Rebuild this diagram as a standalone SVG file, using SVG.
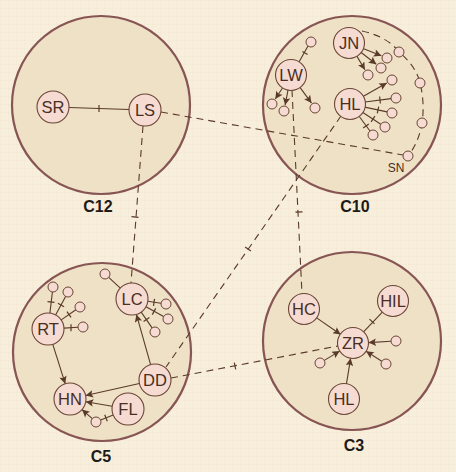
<svg xmlns="http://www.w3.org/2000/svg" width="456" height="472" viewBox="0 0 456 472">
<defs>
<pattern id="grid" width="8" height="8" patternUnits="userSpaceOnUse">
<path d="M8 0 L0 0 0 8" fill="none" stroke="#e9dcc0" stroke-width="0.6" opacity="0.7"/>
</pattern>
<marker id="arr" viewBox="0 0 10 10" refX="10" refY="5" markerWidth="9" markerHeight="7.5" markerUnits="userSpaceOnUse" orient="auto">
<path d="M0 0 L10 5 L0 10 L2 5 Z" fill="#5a3a2a"/>
</marker>
<style>
.cl{fill:#eee1c6;stroke:#875553;stroke-width:2.2}
.n{fill:#f5dbd2;stroke:#6b4535;stroke-width:1.1}
.s{fill:#f5dbd2;stroke:#6b4535;stroke-width:1}
.t{font-family:"Liberation Sans",Arial,sans-serif;font-size:16.5px;fill:#4a2e22;text-anchor:middle}
.lbl{font-family:"Liberation Sans",Arial,sans-serif;font-size:16px;font-weight:bold;fill:#1e1a18;text-anchor:middle}
.sn{font-family:"Liberation Sans",Arial,sans-serif;font-size:12px;fill:#4a2e22;text-anchor:middle}
.e{stroke:#5a3a2a;stroke-width:1.1;fill:none}
.a{stroke:#5a3a2a;stroke-width:1.1;fill:none;marker-end:url(#arr)}
.d{stroke:#5a3a2a;stroke-width:1.1;fill:none;stroke-dasharray:7 5}
.k{stroke:#5a3a2a;stroke-width:1.2}
</style>
</defs>
<rect width="456" height="472" fill="#f8eedc"/>
<rect width="456" height="472" fill="url(#grid)"/>

<g id="clusters">
<circle class="cl" cx="101" cy="105" r="89"/>
<circle class="cl" cx="352" cy="105" r="89"/>
<circle class="cl" cx="102" cy="352" r="89"/>
<circle class="cl" cx="352" cy="341" r="89"/>
<text class="lbl" x="98" y="212">C12</text>
<text class="lbl" x="355" y="212">C10</text>
<text class="lbl" x="101" y="462">C5</text>
<text class="lbl" x="354" y="451">C3</text>
</g>

<g id="connectors">
<line class="d" x1="161" y1="112" x2="403" y2="155"/>
<line class="d" x1="143" y1="126" x2="131" y2="283"/>
<line class="k" x1="131.5" y1="216.7" x2="138.5" y2="217.3"/>
<line class="d" x1="341" y1="116" x2="166" y2="367"/>
<line class="k" x1="245.1" y1="247" x2="250.9" y2="251"/>
<line class="d" x1="292" y1="90" x2="302" y2="294"/>
<line class="k" x1="295.5" y1="212.2" x2="302.5" y2="211.8"/>
<line class="d" x1="171" y1="378" x2="338" y2="346"/>
<line class="k" x1="234.3" y1="362.6" x2="235.7" y2="369.4"/>
<line class="e" x1="69" y1="107.5" x2="129" y2="109.5"/>
<line class="k" x1="99" y1="105" x2="99" y2="112"/>
<line class="e" x1="299" y1="62" x2="308" y2="46"/>
<line class="k" x1="302.4" y1="51.5" x2="307.6" y2="54.5"/>
<line class="a" x1="282.8" y1="87.5" x2="275.3" y2="99"/>
<line class="a" x1="288.1" y1="89.7" x2="285.1" y2="105.1"/>
<line class="a" x1="299.8" y1="87.1" x2="311.5" y2="103.1"/>
<line class="a" x1="363" y1="48.5" x2="381.4" y2="55.8"/>
<line class="a" x1="360.8" y1="52.2" x2="376.3" y2="64.3"/>
<line class="a" x1="356.7" y1="55.9" x2="364.9" y2="69.8"/>
<path class="d" d="M362 31 Q388 37 399 52 Q416 66 420 83 Q425 103 422 123 Q419 142 408 156"/>
<line class="a" x1="363" y1="96.6" x2="386.8" y2="83"/>
<line class="e" x1="365" y1="102" x2="391" y2="98.6"/>
<line class="k" x1="379.6" y1="96.5" x2="380.4" y2="103.5"/>
<line class="e" x1="364.7" y1="107.1" x2="387.1" y2="111.9"/>
<line class="k" x1="378.7" y1="106.6" x2="377.3" y2="113.4"/>
<line class="e" x1="362.5" y1="112.2" x2="380.8" y2="124.3"/>
<line class="k" x1="374.9" y1="116.1" x2="371.1" y2="121.9"/>
<line class="e" x1="358.9" y1="116" x2="370" y2="131"/>
<line class="k" x1="368.8" y1="123.9" x2="363.2" y2="128.1"/>
<line class="e" x1="49.9" y1="313.1" x2="52.4" y2="292"/>
<line class="k" x1="47.5" y1="301.6" x2="54.5" y2="302.4"/>
<line class="e" x1="55.6" y1="314.9" x2="65.6" y2="296.4"/>
<line class="k" x1="57.9" y1="303.3" x2="64.1" y2="306.7"/>
<line class="e" x1="61.2" y1="319.9" x2="75.9" y2="309.8"/>
<line class="k" x1="67" y1="311.6" x2="71" y2="317.4"/>
<line class="e" x1="64" y1="328.1" x2="78" y2="327.3"/>
<line class="k" x1="71" y1="324.3" x2="71" y2="331.3"/>
<line class="e" x1="120.3" y1="288.1" x2="108.7" y2="277.4"/>
<line class="e" x1="147.8" y1="301.3" x2="161" y2="303.3"/>
<line class="k" x1="154.5" y1="298.8" x2="153.5" y2="305.8"/>
<line class="e" x1="146" y1="306.8" x2="163.6" y2="316.6"/>
<line class="k" x1="155.7" y1="308.4" x2="152.3" y2="314.6"/>
<line class="e" x1="141.2" y1="312.1" x2="152.1" y2="327.9"/>
<line class="k" x1="149.4" y1="317.5" x2="143.6" y2="321.5"/>
<line class="a" x1="150.6" y1="364.6" x2="136.4" y2="314.4"/>
<line class="a" x1="52.8" y1="344.3" x2="65.2" y2="383.7"/>
<line class="a" x1="139.4" y1="383.5" x2="85.6" y2="395.5"/>
<line class="a" x1="112.2" y1="406.3" x2="85.8" y2="401.7"/>
<line class="e" x1="113.2" y1="415" x2="100.6" y2="420.1"/>
<line class="k" x1="104.7" y1="414.8" x2="107.3" y2="421.2"/>
<line class="a" x1="92.3" y1="418.7" x2="82" y2="409.6"/>
<line class="a" x1="316.3" y1="317.6" x2="340.7" y2="334.5"/>
<line class="e" x1="382.6" y1="311.9" x2="363.3" y2="332.1"/>
<line class="k" x1="369.5" y1="319.1" x2="374.5" y2="323.9"/>
<line class="a" x1="391" y1="341.2" x2="368.5" y2="342.6"/>
<line class="a" x1="381.8" y1="361.3" x2="366.1" y2="351.3"/>
<line class="a" x1="324.3" y1="360.4" x2="339.7" y2="351.1"/>
<line class="a" x1="346.4" y1="384.2" x2="350.6" y2="358.3"/>
</g>

<g id="node-SR"><circle class="n" cx="53" cy="107" r="16"/><text class="t" x="53" y="112.9">SR</text></g>
<g id="node-LS"><circle class="n" cx="145" cy="110" r="16"/><text class="t" x="145" y="115.9">LS</text></g>

<g id="node-LW"><circle class="n" cx="291" cy="75" r="15.5"/><text class="t" x="291" y="80.9">LW</text></g>
<g id="node-JN"><circle class="n" cx="349" cy="43" r="15.5"/><text class="t" x="349" y="48.9">JN</text></g>
<g id="node-HL10"><circle class="n" cx="350" cy="104" r="15.5"/><text class="t" x="350" y="109.9">HL</text></g>
<g id="c10-small">
<circle class="s" cx="311" cy="42" r="5"/>
<circle class="s" cx="272" cy="104" r="5"/>
<circle class="s" cx="284" cy="111" r="5"/>
<circle class="s" cx="315" cy="108" r="5"/>
<circle class="s" cx="387" cy="58" r="5"/>
<circle class="s" cx="381" cy="68" r="5"/>
<circle class="s" cx="368" cy="75" r="5"/>
<circle class="s" cx="399" cy="52" r="5"/>
<circle class="s" cx="420" cy="83" r="5"/>
<circle class="s" cx="422" cy="123" r="5"/>
<circle class="s" cx="392" cy="80" r="5"/>
<circle class="s" cx="396" cy="98" r="5"/>
<circle class="s" cx="392" cy="113" r="5"/>
<circle class="s" cx="385" cy="127" r="5"/>
<circle class="s" cx="373" cy="135" r="5"/>
</g>
<g id="node-SN"><circle class="s" cx="408" cy="156" r="5"/><text class="sn" x="396" y="172">SN</text></g>

<g id="node-RT"><circle class="n" cx="48" cy="329" r="16"/><text class="t" x="48" y="334.9">RT</text></g>
<g id="node-LC"><circle class="n" cx="132" cy="299" r="16"/><text class="t" x="132" y="304.9">LC</text></g>
<g id="node-DD"><circle class="n" cx="155" cy="380" r="16"/><text class="t" x="155" y="385.9">DD</text></g>
<g id="node-HN"><circle class="n" cx="70" cy="399" r="16"/><text class="t" x="70" y="404.9">HN</text></g>
<g id="node-FL"><circle class="n" cx="128" cy="409" r="16"/><text class="t" x="128" y="414.9">FL</text></g>
<g id="c5-small">
<circle class="s" cx="53" cy="287" r="5"/>
<circle class="s" cx="68" cy="292" r="5"/>
<circle class="s" cx="80" cy="307" r="5"/>
<circle class="s" cx="83" cy="327" r="5"/>
<circle class="s" cx="105" cy="274" r="5"/>
<circle class="s" cx="166" cy="304" r="5"/>
<circle class="s" cx="168" cy="319" r="5"/>
<circle class="s" cx="155" cy="332" r="5"/>
<circle class="s" cx="96" cy="422" r="5"/>
</g>

<g id="node-HC"><circle class="n" cx="304" cy="309" r="15.5"/><text class="t" x="304" y="314.9">HC</text></g>
<g id="node-HIL"><circle class="n" cx="393" cy="301" r="15.5"/><text class="t" x="393" y="306.9">HIL</text></g>
<g id="node-ZR"><circle class="n" cx="353" cy="343" r="15.5"/><text class="t" x="353" y="348.9">ZR</text></g>
<g id="node-HL3"><circle class="n" cx="344" cy="399" r="15.5"/><text class="t" x="344" y="404.9">HL</text></g>
<g id="c3-small">
<circle class="s" cx="396" cy="341" r="5"/>
<circle class="s" cx="386" cy="364" r="5"/>
<circle class="s" cx="320" cy="363" r="5"/>
</g>
</svg>
